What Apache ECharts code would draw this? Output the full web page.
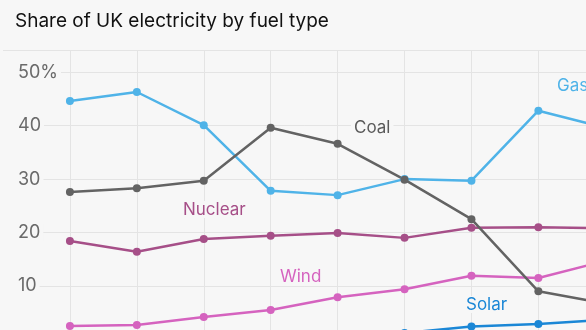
<!DOCTYPE html>
<html><head><meta charset="utf-8">
<script src="https://cdn.jsdelivr.net/npm/echarts@6/dist/echarts.min.js"></script>
<style>html,body{margin:0;padding:0;background:#f7f7f7;overflow:hidden}#c{width:612px;height:345px}</style>
</head><body><div id="c"></div>
<script>
const years = ['2008','2009','2010','2011','2012','2013','2014','2015','2016','2017'];
const gas     = [null, 44.6, 46.3, 40.1, 27.8, 27.0, 30.0, 29.7, 42.8, 39.6];
const coal    = [null, 27.6, 28.3, 29.7, 39.6, 36.6, 29.9, 22.5, 9.0, 6.7];
const nuclear = [null, 18.4, 16.4, 18.8, 19.4, 19.9, 19.0, 20.9, 21.0, 20.8];
const wind    = [null, 2.5, 2.7, 4.2, 5.5, 7.9, 9.4, 11.9, 11.5, 14.7];
const solar   = [null, 0.0, 0.0, 0.1, 0.3, 0.6, 1.2, 2.4, 2.9, 3.7];
const yTicks = [10, 20, 30, 40, 50];

const colors = {gas:'#4fb3e8', coal:'#636363', nuclear:'#a64f88', wind:'#d563bf', solar:'#1b87d6'};
const chart = echarts.init(document.getElementById('c'));
function mk(name, data, color){
  return {name, type:'line', data, connectNulls:false, symbol:'circle', symbolSize:8,
    lineStyle:{width:2.5,color}, itemStyle:{color}, silent:true, animation:false};
}
const font = 'Inter, "Noto Sans", sans-serif';
function lbl(text, x, y, color){
  return {type:'text', left:x, top:y, z:1,
    style:{text, fill:color, font:'17px '+font, backgroundColor:'#f7f7f7', padding:[0,3,0,3]}};
}
chart.setOption({
  backgroundColor:'#f7f7f7',
  animation:false,
  title:{text:'Share of UK electricity by fuel type', left:15, top:12, padding:0,
    textStyle:{fontFamily:font, fontSize:19, fontWeight:'normal', color:'#111'}},
  grid:{left:0, top:50, width:605.3, height:289.4},
  xAxis:{type:'category', data:years, boundaryGap:false,
    axisLine:{show:false}, axisTick:{show:false}, axisLabel:{show:false},
    splitLine:{show:true, interval:(i)=>i>0, lineStyle:{color:'#e4e4e4', width:1}}},
  yAxis:{type:'value', min:0, max:54.16, interval:10,
    axisLine:{show:false}, axisTick:{show:false},
    axisLabel:{inside:true, margin:0, fontFamily:font, fontSize:18, color:'#6a6a6a',
      backgroundColor:'#f7f7f7', padding:[0,3,0,15],
      formatter:(v)=> yTicks.includes(v) ? (v===50 ? '50%' : String(v)) : ''},
    splitLine:{lineStyle:{color:'#e4e4e4', width:1}}},
  series:[mk('Nuclear',nuclear,colors.nuclear), mk('Wind',wind,colors.wind), mk('Solar',solar,colors.solar),
          mk('Gas',gas,colors.gas), mk('Coal',coal,colors.coal)],
  graphic:[
    lbl('Gas', 554, 77, colors.gas),
    lbl('Coal', 351, 119, '#5a5a5a'),
    lbl('Nuclear', 180, 201, colors.nuclear),
    lbl('Wind', 277, 268, colors.wind),
    lbl('Solar', 463, 296, colors.solar)
  ]
});
</script></body></html>
